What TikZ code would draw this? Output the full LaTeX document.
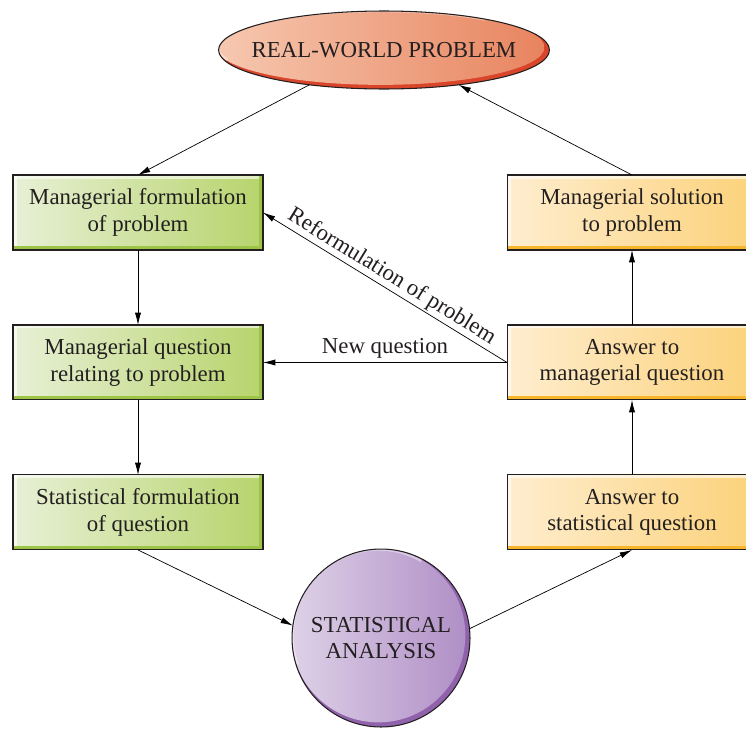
\documentclass[tikz,border=0pt]{standalone}
\usepackage{fontspec}
\setmainfont{Liberation Serif}
\usetikzlibrary{arrows.meta,positioning,shapes.geometric}

\definecolor{greenL}{HTML}{E8F0D6}
\definecolor{greenR}{HTML}{B7D46C}
\definecolor{greenD}{HTML}{9CC447}
\definecolor{yellowL}{HTML}{FEEDCF}
\definecolor{yellowR}{HTML}{FCD27A}
\definecolor{yellowD}{HTML}{F7B52C}
\definecolor{orangeL}{HTML}{F6C8B0}
\definecolor{orangeR}{HTML}{E8845F}
\definecolor{orangeD}{HTML}{D9452A}
\definecolor{purpleL}{HTML}{DED1E7}
\definecolor{purpleR}{HTML}{B08FC6}
\definecolor{purpleD}{HTML}{8F62AB}
\definecolor{ink}{HTML}{231F20}

\begin{document}
\begin{tikzpicture}[
  x=0.02cm,
  y=-0.02cm,
  every node/.style={
    text=ink,
    font=\fontsize{13}{15}\selectfont
  },
  box/.style={
    draw=ink,
    line width=0.6pt,
    rectangle,
    minimum width=5cm,
    minimum height=1.5cm,
    align=center,
    inner sep=0pt,
    outer sep=0pt
  },
  managerial/.style={
    box,
    left color=greenL,
    right color=greenR,
    path picture={
      \fill[white,opacity=0.6] (path picture bounding box.north west) rectangle ([yshift=-2pt]path picture bounding box.north east);
      \fill[white,opacity=0.6] (path picture bounding box.north west) rectangle ([xshift=2pt]path picture bounding box.south west);
      \fill[greenD] (path picture bounding box.south west) rectangle ([yshift=2.5pt]path picture bounding box.south east);
      \fill[greenD] (path picture bounding box.south east) rectangle ([xshift=-2pt]path picture bounding box.north east);
    }
  },
  answer/.style={
    box,
    left color=yellowL,
    right color=yellowR,
    path picture={
      \fill[white,opacity=0.6] (path picture bounding box.north west) rectangle ([yshift=-2pt]path picture bounding box.north east);
      \fill[white,opacity=0.6] (path picture bounding box.north west) rectangle ([xshift=2pt]path picture bounding box.south west);
      \fill[yellowD] (path picture bounding box.south west) rectangle ([yshift=2.5pt]path picture bounding box.south east);
    }
  },
  problem/.style={
    draw=ink,
    line width=0.6pt,
    ellipse,
    minimum width=6.62cm,
    minimum height=1.56cm,
    inner xsep=-0.6cm,
    inner ysep=0pt,
    outer sep=0pt,
    path picture={
      \fill[orangeD] (path picture bounding box.south west) rectangle (path picture bounding box.north east);
      \shade[left color=orangeL,right color=orangeR]
        ([xshift=-2pt,yshift=1.5pt]path picture bounding box.center) ellipse [x radius=3.28cm, y radius=0.75cm];
      \draw[white,opacity=0.4,line width=1.5pt]
        ([xshift=-2pt,yshift=1.5pt]path picture bounding box.center) ++(50:3.26cm and 0.73cm)
        arc [start angle=50, end angle=200, x radius=3.26cm, y radius=0.73cm];
    }
  },
  analysis/.style={
    draw=ink,
    line width=0.6pt,
    circle,
    minimum size=3.56cm,
    inner sep=0pt,
    outer sep=0pt,
    align=center,
    path picture={
      \fill[purpleD] (path picture bounding box.south west) rectangle (path picture bounding box.north east);
      \shade[left color=purpleL,right color=purpleR]
        ([xshift=-1.5pt,yshift=1.5pt]path picture bounding box.center) circle [radius=1.74cm];
      \draw[white,opacity=0.4,line width=1.5pt]
        ([xshift=-1.5pt,yshift=1.5pt]path picture bounding box.center) ++(60:1.72cm)
        arc [start angle=60, end angle=200, radius=1.72cm];
    }
  },
  >={Latex[length=7pt,width=3.5pt]}
]

\useasboundingbox (0,0) rectangle (746,730);

% Problem and analysis
\node[problem] (real) at (384,50) {REAL-WORLD PROBLEM};
\node[analysis] (stat) at (381,638) {STATISTICAL\\ANALYSIS};

% Left column
\node[managerial] (formul) at (138,212.5) {Managerial formulation\\of problem};
\node[managerial, below=1.5cm of formul] (question) {Managerial question\\relating to problem};
\node[managerial, below=1.5cm of question] (statform) {Statistical formulation\\of question};

% Right column
\node[answer] (solution) at (632,212.5) {Managerial solution\\to problem};
\node[answer, below=1.5cm of solution] (ansman) {Answer to\\managerial question};
\node[answer, below=1.5cm of ansman] (ansstat) {Answer to\\statistical question};

% Arrows
\draw[->] (real.205) -- (formul.north);
\draw[->] (formul) -- (question);
\draw[->] (question) -- (statform);
\draw[->] (statform.south) -- (stat.172);
\draw[->] (stat.6) -- (ansstat.south);
\draw[->] (ansstat) -- (ansman);
\draw[->] (ansman) -- (solution);
\draw[->] (solution.north) -- (real.335);

% Feedback
\draw[<-] (question.east) -- node[above, inner sep=2pt] {New question} (ansman.west);
\draw[<-] (formul.east) -- node[sloped, above, inner sep=1pt] {Reformulation of problem} (ansman.west);

\end{tikzpicture}
\end{document}
